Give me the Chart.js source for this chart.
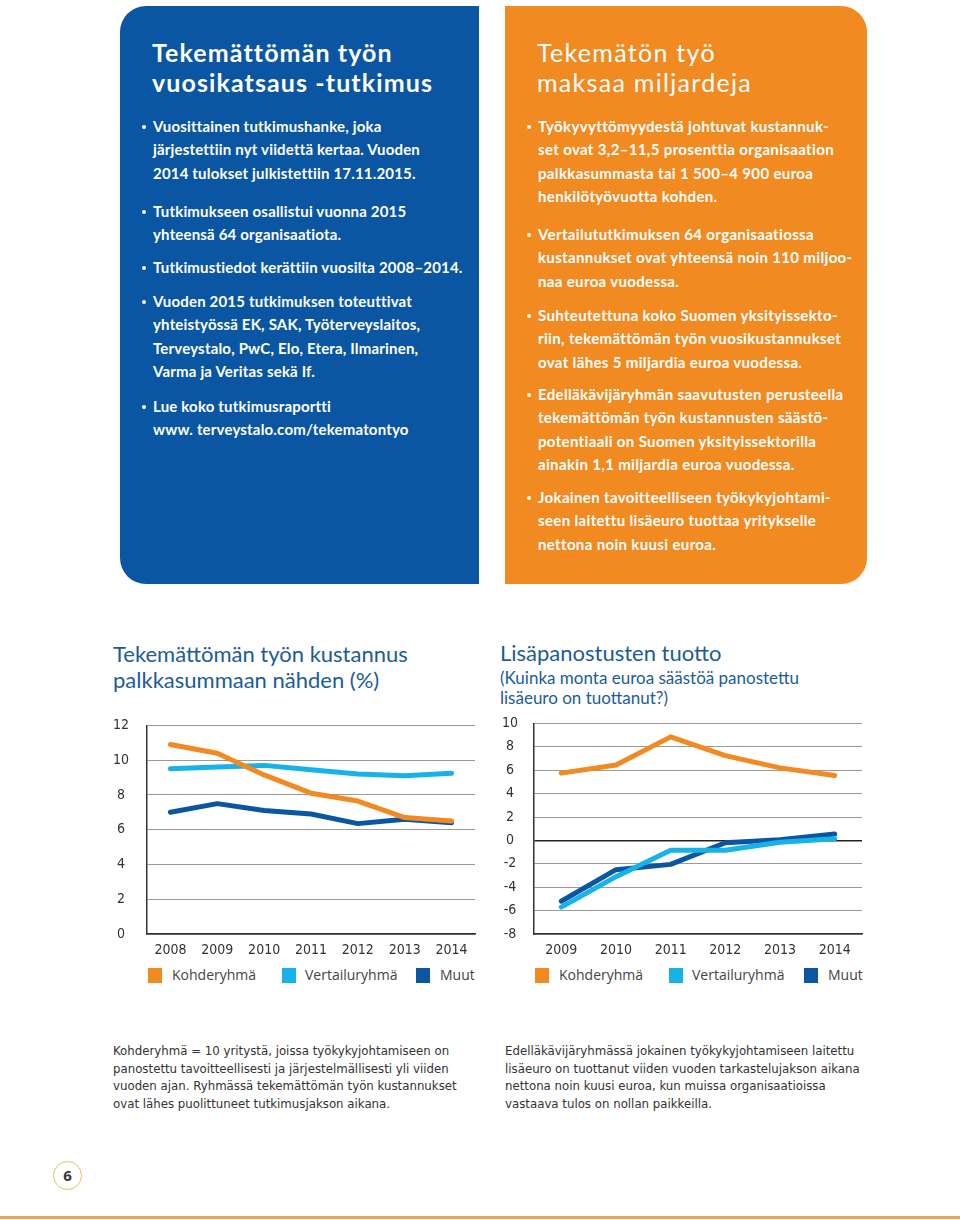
<!DOCTYPE html>
<html lang="fi">
<head>
<meta charset="utf-8">
<script src="https://cdn.jsdelivr.net/npm/chart.js@4.4.1/dist/chart.umd.min.js"></script>
<style>
  html,body{margin:0;padding:0;}
  body{width:960px;height:1220px;position:relative;background:#fff;overflow:hidden;font-family:Lato,"Open Sans",sans-serif;}
  .abs{position:absolute;}
  .box{position:absolute;top:6px;height:578px;}
  #blue{left:120px;width:359px;background:#0b56a3;border-radius:26px 0 0 26px;}
  #orange{left:505px;width:362px;background:#f28a22;border-radius:0 26px 26px 0;}
  .btitle{position:absolute;color:#fff;font-family:Lato,sans-serif;font-size:25px;line-height:30px;white-space:nowrap;}
  .para{position:absolute;color:#fff;font-family:Lato,sans-serif;font-weight:700;font-size:15px;line-height:23.3px;white-space:nowrap;letter-spacing:0.18px;}
  .para .dot{position:absolute;left:-11px;top:10px;width:4px;height:4px;border-radius:50%;background:#fff;}
  .ctitle{position:absolute;color:#1c5c98;font-family:Lato,sans-serif;white-space:nowrap;}
  .legend{position:absolute;top:966px;font-family:"Open Sans",sans-serif;font-size:14px;color:#444;white-space:nowrap;line-height:18px;}
  .sw{position:absolute;width:14px;height:15px;top:2px;}
  .cap{position:absolute;font-family:"Liberation Sans Narrow","DejaVu Sans Condensed",sans-serif;font-size:13.1px;line-height:17.7px;color:#333;white-space:nowrap;}
</style>
</head>
<body>
<div id="blue" class="box"></div>
<div id="orange" class="box"></div>

<div class="btitle" style="left:152px;top:37px;font-weight:700;letter-spacing:1.1px;">Tekemättömän työn</div>
<div class="btitle" style="left:152px;top:67px;font-weight:700;letter-spacing:1.1px;">vuosikatsaus -tutkimus</div>
<div class="para" style="left:153px;top:115px;"><span class="dot"></span>Vuosittainen tutkimushanke, joka<br>järjestettiin nyt viidettä kertaa. Vuoden<br>2014 tulokset julkistettiin 17.11.2015.</div>
<div class="para" style="left:153px;top:200px;"><span class="dot"></span>Tutkimukseen osallistui vuonna 2015<br>yhteensä 64 organisaatiota.</div>
<div class="para" style="left:153px;top:256px;"><span class="dot"></span>Tutkimustiedot kerättiin vuosilta 2008–2014.</div>
<div class="para" style="left:153px;top:290px;"><span class="dot"></span>Vuoden 2015 tutkimuksen toteuttivat<br>yhteistyössä EK, SAK, Työterveyslaitos,<br>Terveystalo, PwC, Elo, Etera, Ilmarinen,<br>Varma ja Veritas sekä If.</div>
<div class="para" style="left:153px;top:395px;"><span class="dot"></span>Lue koko tutkimusraportti<br>www. terveystalo.com/tekematontyo</div>

<div class="btitle" style="left:537px;top:37px;font-weight:400;letter-spacing:1.3px;">Tekemätön työ</div>
<div class="btitle" style="left:537px;top:67px;font-weight:400;letter-spacing:1.3px;">maksaa miljardeja</div>
<div class="para" style="left:538px;top:115px;letter-spacing:0.35px;"><span class="dot"></span>Työkyvyttömyydestä johtuvat kustannuk-<br>set ovat 3,2–11,5 prosenttia organisaation<br>palkkasummasta tai 1 500–4 900 euroa<br>henkilötyövuotta kohden.</div>
<div class="para" style="left:538px;top:223px;letter-spacing:0.35px;"><span class="dot"></span>Vertailututkimuksen 64 organisaatiossa<br>kustannukset ovat yhteensä noin 110 miljoo-<br>naa euroa vuodessa.</div>
<div class="para" style="left:538px;top:304px;letter-spacing:0.35px;"><span class="dot"></span>Suhteutettuna koko Suomen yksityissekto-<br>riin, tekemättömän työn vuosikustannukset<br>ovat lähes 5 miljardia euroa vuodessa.</div>
<div class="para" style="left:538px;top:383px;letter-spacing:0.35px;"><span class="dot"></span>Edelläkävijäryhmän saavutusten perusteella<br>tekemättömän työn kustannusten säästö-<br>potentiaali on Suomen yksityissektorilla<br>ainakin 1,1 miljardia euroa vuodessa.</div>
<div class="para" style="left:538px;top:486px;letter-spacing:0.35px;"><span class="dot"></span>Jokainen tavoitteelliseen työkykyjohtami-<br>seen laitettu lisäeuro tuottaa yritykselle<br>nettona noin kuusi euroa.</div>

<div class="ctitle" style="left:113px;top:641px;font-size:22px;line-height:26px;">Tekemättömän työn kustannus<br>palkkasummaan nähden (%)</div>
<div class="ctitle" style="left:500px;top:640px;font-size:22px;line-height:26px;">Lisäpanostusten tuotto</div>
<div class="ctitle" style="left:500px;top:667.5px;font-size:17px;line-height:20.5px;">(Kuinka monta euroa säästöä panostettu<br>lisäeuro on tuottanut?)</div>

<canvas id="c1" class="abs" style="left:100px;top:699px;" width="380" height="265"></canvas>
<canvas id="c2" class="abs" style="left:490px;top:699px;" width="377" height="265"></canvas>

<div id="leg1"></div>
<div id="leg2"></div>

<div class="cap" style="left:113px;top:1042px;">Kohderyhmä = 10 yritystä, joissa työkykyjohtamiseen on<br>panostettu tavoitteellisesti ja järjestelmällisesti yli viiden<br>vuoden ajan. Ryhmässä tekemättömän työn kustannukset<br>ovat lähes puolittuneet tutkimusjakson aikana.</div>
<div class="cap" style="left:505px;top:1042px;">Edelläkävijäryhmässä jokainen työkykyjohtamiseen laitettu<br>lisäeuro on tuottanut viiden vuoden tarkastelujakson aikana<br>nettona noin kuusi euroa, kun muissa organisaatioissa<br>vastaava tulos on nollan paikkeilla.</div>

<div class="abs" style="left:53px;top:1161px;width:27px;height:27px;border:1.5px solid #e2c35e;border-radius:50%;text-align:center;line-height:27px;font-family:'Open Sans',sans-serif;font-weight:700;font-size:15px;color:#3a3a3a;">6</div>
<div class="abs" style="left:0;top:1216px;width:960px;height:3px;background:#e3a65a;"></div>

<script>
// ---- data ----
const seriesNames = ['Kohderyhmä', 'Vertailuryhmä', 'Muut'];
const seriesColors = ['#f28a22', '#17b2e8', '#0b56a3'];

const years1 = ['2008', '2009', '2010', '2011', '2012', '2013', '2014'];
const kohde1 = [10.9, 10.4, 9.15, 8.1, 7.65, 6.7, 6.5];
const vertailu1 = [9.5, 9.6, 9.7, 9.45, 9.2, 9.1, 9.25];
const muut1 = [7.0, 7.5, 7.1, 6.9, 6.35, 6.6, 6.4];
const ticks1 = [0, 2, 4, 6, 8, 10, 12];

const years2 = ['2009', '2010', '2011', '2012', '2013', '2014'];
const kohde2 = [5.75, 6.45, 8.85, 7.25, 6.2, 5.55];
const vertailu2 = [-5.7, -3.1, -0.85, -0.85, -0.15, 0.15];
const muut2 = [-5.2, -2.5, -2.05, -0.2, 0.05, 0.55];
const ticks2 = [-8, -6, -4, -2, 0, 2, 4, 6, 8, 10];

// ---- legends (HTML) ----
function buildLegend(id, positions) {
  const el = document.getElementById(id);
  el.className = 'legend';
  el.style.left = '0px';
  seriesNames.forEach((n, i) => {
    const sw = document.createElement('div');
    sw.className = 'sw';
    sw.style.left = positions[i][0] + 'px';
    sw.style.background = seriesColors[i];
    el.appendChild(sw);
    const t = document.createElement('div');
    t.className = 'abs';
    t.style.left = positions[i][1] + 'px';
    t.style.top = '0px';
    t.textContent = n;
    el.appendChild(t);
  });
}
buildLegend('leg1', [[148, 172], [282, 305], [416, 440]]);
buildLegend('leg2', [[535, 559], [669, 692], [804, 828]]);

// ---- charts ----
const tickFont = { family: "'Liberation Sans Narrow','DejaVu Sans Condensed',sans-serif", size: 14 };

function makeChart(id, labels, data, ticks, yWidth, yPad) {
  const datasets = data.map((d, i) => ({
    label: seriesNames[i],
    data: d,
    borderColor: seriesColors[i],
    backgroundColor: seriesColors[i],
    borderWidth: 5,
    pointRadius: 0,
    tension: 0,
    borderJoinStyle: 'round',
    borderCapStyle: 'round',
    fill: false
  }));
  return new Chart(document.getElementById(id), {
    type: 'line',
    data: { labels, datasets },
    options: {
      responsive: false,
      animation: false,
      layout: { padding: { top: 10, right: 5, left: 0, bottom: 0 } },
      plugins: { legend: { display: false }, tooltip: { enabled: false } },
      scales: {
        x: {
          type: 'category',
          offset: true,
          grid: { display: false, drawTicks: false },
          border: { display: true, color: '#333', width: 1.5 },
          ticks: { font: tickFont, color: '#333', padding: 8, maxRotation: 0 },
          afterFit: s => { s.height = 30; }
        },
        y: {
          min: ticks[0],
          max: ticks[ticks.length - 1],
          afterBuildTicks: s => { s.ticks = ticks.map(v => ({ value: v })); },
          grid: {
            drawTicks: false,
            color: c => (c.tick && c.tick.value === 0 ? '#222' : '#9a9a9a'),
            lineWidth: c => (c.tick && c.tick.value === 0 ? 1.5 : 1)
          },
          border: { display: true, color: '#333', width: 1.5 },
          ticks: { font: tickFont, color: '#333', padding: yPad, crossAlign: 'center' },
          afterFit: s => { s.width = yWidth; }
        }
      }
    }
  });
}

makeChart('c1', years1, [kohde1, vertailu1, muut1], ticks1, 47, 18);
makeChart('c2', years2, [kohde2, vertailu2, muut2], ticks2, 44, 16);
</script>
</body>
</html>
